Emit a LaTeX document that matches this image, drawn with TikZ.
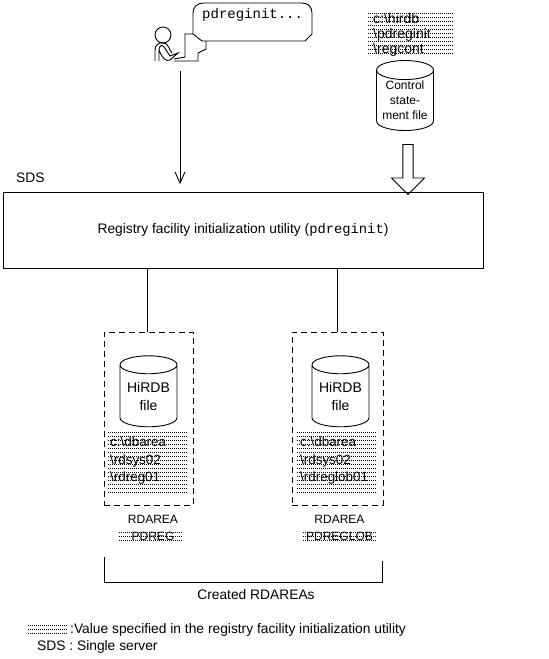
\documentclass[tikz,border=0pt]{standalone}
\usepackage{fontspec}
\setmainfont{Liberation Sans}
\setmonofont{Liberation Mono}
\usetikzlibrary{shapes.geometric,shapes.arrows}
\tikzset{
  px/.style={x=1pt,y=-1pt},
  lbl/.style={font=\fontsize{13.8}{16}\selectfont,inner sep=0pt,align=center},
  cyl/.style={draw,line width=.9pt,shape=cylinder,shape border rotate=90,aspect=.42,minimum width=57pt,inner sep=0pt,align=center},
  ln/.style={line width=.9pt},
  dashbox/.style={draw,line width=.9pt,dash pattern=on 6pt off 4pt,inner sep=0pt},
  dotrow/.style={line width=1pt,dash pattern=on 1pt off 1pt}
}
\newcommand{\dotsarea}[4]{% x1 y1 x2 y2
  \pgfmathsetmacro{\ystart}{#2+.5}%
  \pgfmathsetmacro{\ynext}{#2+4.5}%
  \foreach \yy in {\ystart,\ynext,...,#4}{\draw[dotrow] (#1,\yy)--(#3,\yy);}%
}
\begin{document}
\begin{tikzpicture}[px]
\useasboundingbox (0,0) rectangle (549,659);
% dotted areas
\dotsarea{368}{13}{453}{57}
\dotsarea{108}{432}{187}{494}
\dotsarea{297}{432}{377}{494}
\dotsarea{119}{532}{182}{544}
\dotsarea{303}{532}{377}{544}
\dotsarea{28}{625}{67}{636}
% person
\draw[ln] (163,35) circle (8);
\draw[ln] (155,61) -- (155,50) .. controls (155,45) and (159,42) .. (163,43) .. controls (167,43) and (168,46) .. (170,50) -- (172,53);
\draw[ln] (159,61) -- (159,50) .. controls (159,46) and (162,44) .. (164,47) -- (170,56) -- (178,53) -- (170,60) .. controls (166,62) and (162,58) .. (159,50);
% bubble
\draw[ln] (174,59) -- (185,57) -- (185,34) -- (193,34) -- (193,13) .. controls (193,7) and (197,3) .. (204,3) -- (302,3) .. controls (308,3) and (312,7) .. (312,13) -- (312,34) -- (305,41) -- (202,41) -- (193,34);
\draw[ln] (174,61) -- (198,61) -- (198,53) -- (206,49) -- (206,41);
\node[inner sep=0pt,anchor=west,font=\ttfamily\fontsize{14}{16}\selectfont] (cmd) at (202,15) {pdreginit...};
% main box
\node[draw,ln,minimum width=480pt,minimum height=76pt,inner sep=0pt,lbl] (util) at (243,230) {Registry facility initialization utility (\texttt{pdreginit})};
\node[lbl,anchor=west] (sds) at (16,178) {SDS};
\coordinate (p) at (180,71);
\draw[ln] (p) -- (180,183);
\draw[ln] (175,172) -- (180,183) -- (185,172);
% control
\node[lbl,font=\fontsize{14}{15}\selectfont,anchor=west,align=left] (ctlpath) at (373,35) {c:\textbackslash hirdb\\\textbackslash pdreginit\\\textbackslash regcont};
\node[cyl,minimum height=70pt,font=\fontsize{12}{15}\selectfont] (ctl) at (405,100.5) {Control\\state-\\ment file};
\node[draw,ln,shape=single arrow,shape border rotate=270,minimum height=50pt,minimum width=33pt,single arrow head extend=5.5pt,single arrow tip angle=90,inner sep=2pt] (big) at (408,167) {};
% rdareas
\node[dashbox,minimum width=89pt,minimum height=173pt] (a1) at (148.5,418.5) {};
\node[dashbox,minimum width=91pt,minimum height=173pt] (a2) at (337.5,418.5) {};
\coordinate (c1) at (147.5,332);
\coordinate (c2) at (337,332);
\draw[ln] (util.south -| c1) -- (c1);
\draw[ln] (util.south -| c2) -- (c2);
\node[cyl,minimum height=71pt,font=\fontsize{14}{18}\selectfont] (f1) at (148.5,396) {HiRDB\\file};
\node[cyl,minimum height=71pt,font=\fontsize{14}{18}\selectfont] (f2) at (340.5,396) {HiRDB\\file};
\node[lbl,font=\fontsize{13.4}{17.5}\selectfont,anchor=west,align=left] (p1) at (110,461) {c:\textbackslash dbarea\\\textbackslash rdsys02\\\textbackslash rdreg01};
\node[lbl,font=\fontsize{13.4}{17.5}\selectfont,anchor=west,align=left] (p2) at (300,461) {c:\textbackslash dbarea\\\textbackslash rdsys02\\\textbackslash rdreglob01};
\node[lbl,font=\fontsize{12}{17}\selectfont] (r1) at (153,527.5) {RDAREA\\PDREG};
\node[lbl,font=\fontsize{12}{17}\selectfont] (r2) at (339.5,527.5) {RDAREA\\PDREGLOB};
\node[lbl] (created) at (256,595) {Created RDAREAs};
\coordinate (bl) at (104.5,557);
\coordinate (br) at (382,561);
\draw[ln] (bl) -- (104.5,582) -- (382,582) -- (br);
\node[lbl,anchor=west] (leg1) at (70,630) {:Value specified in the registry facility initialization utility};
\node[lbl,anchor=west] (leg2) at (37,647) {SDS : Single server};
\end{tikzpicture}
\end{document}
